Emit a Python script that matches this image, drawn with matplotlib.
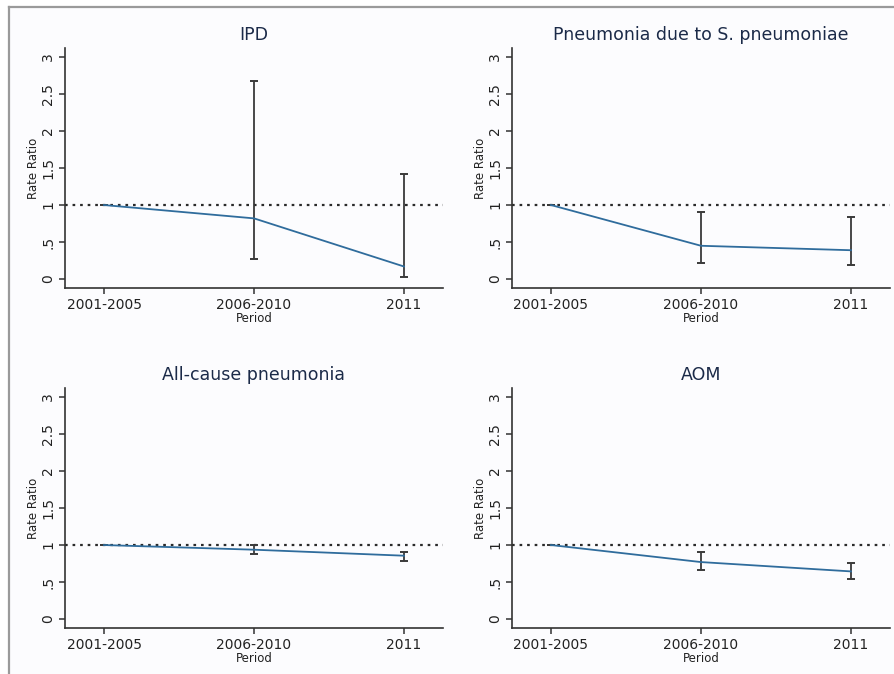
import matplotlib
matplotlib.use("Agg")
import matplotlib.pyplot as plt
from matplotlib.patches import Rectangle
from matplotlib.lines import Line2D

# periods on the x axis
periods = ['2001-2005', '2006-2010', '2011']

# panel titles
titles = ['IPD', 'Pneumonia due to S. pneumoniae', 'All-cause pneumonia', 'AOM']

# rate ratios and 95% CI per panel
ipd_rr = [1.0, 0.82, 0.17]
ipd_lo = [1.0, 0.27, 0.03]
ipd_hi = [1.0, 2.67, 1.42]

spn_rr = [1.0, 0.45, 0.39]
spn_lo = [1.0, 0.22, 0.185]
spn_hi = [1.0, 0.905, 0.84]

allp_rr = [1.0, 0.937, 0.856]
allp_lo = [1.0, 0.874, 0.784]
allp_hi = [1.0, 1.0, 0.91]

aom_rr = [1.0, 0.77, 0.644]
aom_lo = [1.0, 0.667, 0.545]
aom_hi = [1.0, 0.905, 0.752]

yticks = [0, 0.5, 1, 1.5, 2, 2.5, 3]
yticklabels = ['0', '.5', '1', '1.5', '2', '2.5', '3']

panels = [
    (ipd_rr, ipd_lo, ipd_hi),
    (spn_rr, spn_lo, spn_hi),
    (allp_rr, allp_lo, allp_hi),
    (aom_rr, aom_lo, aom_hi),
]

W, H = 894, 674
fig = plt.figure(figsize=(W / 100, H / 100), dpi=100, facecolor='white')

# light frame like the exported Stata graph window
fig.patches.append(Rectangle((9 / W, 0), 1, 1 - 7 / H, transform=fig.transFigure,
                             facecolor='#fcfcfe', edgecolor='none', zorder=-10))
fig.lines.append(Line2D([9 / W, 9 / W], [0, 1 - 7 / H], transform=fig.transFigure,
                        color='#9a9a9a', lw=1.6, zorder=-5))
fig.lines.append(Line2D([9 / W, 1], [1 - 7 / H, 1 - 7 / H], transform=fig.transFigure,
                        color='#9a9a9a', lw=1.6, zorder=-5))

# axes rectangles in pixels: left, x axis line (bottom), right
boxes = [
    (65, 288, 443),
    (512, 288, 890),
    (65, 628, 443),
    (512, 628, 890),
]
ax_h = 240

x = [1, 2, 3]
for (rr, lo, hi), title, (l, b, r) in zip(panels, titles, boxes):
    ax = fig.add_axes([l / W, 1 - b / H, (r - l) / W, ax_h / H])
    ax.set_facecolor('none')
    ax.set_xlim(0.74, 3.26)
    ax.set_ylim(-0.12, 3.12)

    ax.axhline(1, color='#2a2a2a', lw=1.6, ls=(0, (1.2, 2.2)), zorder=1)
    err = [[v - a for v, a in zip(rr, lo)], [c - v for v, c in zip(rr, hi)]]
    ax.errorbar(x, rr, yerr=err, fmt='none', ecolor='#3a3a3a', elinewidth=1.3,
                capsize=3.0, capthick=1.4, zorder=2)
    ax.plot(x, rr, color='#2f6c9c', lw=1.3, zorder=3)

    for s in ['top', 'right']:
        ax.spines[s].set_visible(False)
    for s in ['left', 'bottom']:
        ax.spines[s].set_color('#333333')
        ax.spines[s].set_linewidth(1.2)

    ax.set_xticks(x)
    ax.set_xticklabels(periods, fontsize=10, color='#222222')
    ax.set_yticks(yticks)
    ax.set_yticklabels(yticklabels, fontsize=10, color='#222222', rotation=90, va='center')
    ax.tick_params(axis='both', length=4, width=1.1, color='#333333', pad=3)

    ax.set_xlabel('Period', fontsize=8.5, color='#222222', labelpad=0)
    ax.set_ylabel('Rate Ratio', fontsize=8.5, color='#222222', labelpad=1)
    ax.set_title(title, fontsize=12.5, color='#1b2a48', pad=6)

fig.savefig('out.png', dpi=100, facecolor=fig.get_facecolor())
